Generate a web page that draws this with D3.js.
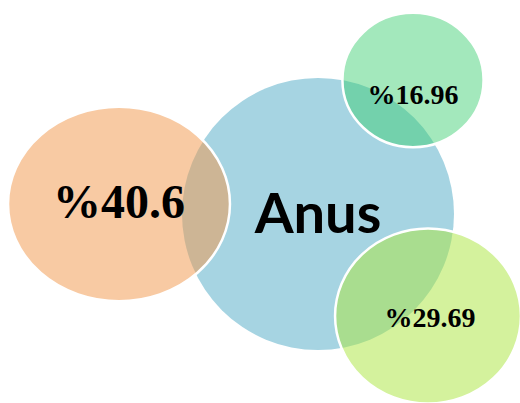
<!DOCTYPE html>
<html>
<head>
<meta charset="utf-8">
<script src="https://cdn.jsdelivr.net/npm/d3@7"></script>
<style>
  body { margin: 0; background: #fff; }
  svg { display: block; }
</style>
</head>
<body>
<svg width="520" height="403"></svg>
<script>
var width = 520;
var height = 403;

// data
var centerLabel = "Anus";
var values = [40.6, 16.96, 29.69];
var labels = values.map(function(v){ return "%" + v; });

// layout / styling (not data)
var centerPos = { x: 318, y: 214, r: 136, color: "#a6d4e2" };
var places = [
  { x: 119, y: 204, sx: 1.067, sy: 0.935, color: "#f1994f", op: 0.52, size: 48, ty: 218 },
  { x: 413, y: 80,  sx: 1.05,  sy: 1.0,   color: "#37cd6d", op: 0.46, size: 28, ty: 104 },
  { x: 428, y: 316, sx: 1.045, sy: 0.985, color: "#ace644", op: 0.52, size: 28, ty: 327, tx: 430 }
];
var serifFont = "Liberation Serif, Times New Roman, serif";

var rScale = d3.scaleSqrt().domain([0, d3.max(values)]).range([0, 104]);

var svg = d3.select("svg");

svg.append("circle")
  .attr("cx", centerPos.x)
  .attr("cy", centerPos.y)
  .attr("r", centerPos.r)
  .attr("fill", centerPos.color);

var bubbles = values.map(function(v, i){
  return { value: v, label: labels[i], p: places[i] };
});

svg.selectAll("ellipse.bubble")
  .data(bubbles)
  .enter().append("ellipse")
  .attr("class", "bubble")
  .attr("cx", function(d){ return d.p.x; })
  .attr("cy", function(d){ return d.p.y; })
  .attr("rx", function(d){ return rScale(d.value) * d.p.sx; })
  .attr("ry", function(d){ return rScale(d.value) * d.p.sy; })
  .attr("fill", function(d){ return d.p.color; })
  .attr("fill-opacity", function(d){ return d.p.op; })
  .attr("stroke", "#fff")
  .attr("stroke-width", 2.5);

svg.append("text")
  .attr("x", centerPos.x)
  .attr("y", 233)
  .attr("text-anchor", "middle")
  .attr("font-family", "Lato")
  .attr("font-weight", "bold")
  .attr("font-size", 56)
  .attr("fill", "#000")
  .text(centerLabel);

svg.selectAll("text.val")
  .data(bubbles)
  .enter().append("text")
  .attr("class", "val")
  .attr("x", function(d){ return d.p.tx || d.p.x; })
  .attr("y", function(d){ return d.p.ty; })
  .attr("text-anchor", "middle")
  .attr("font-family", serifFont)
  .attr("font-weight", "bold")
  .attr("font-size", function(d){ return d.p.size; })
  .attr("fill", "#000")
  .text(function(d){ return d.label; });
</script>
</body>
</html>
